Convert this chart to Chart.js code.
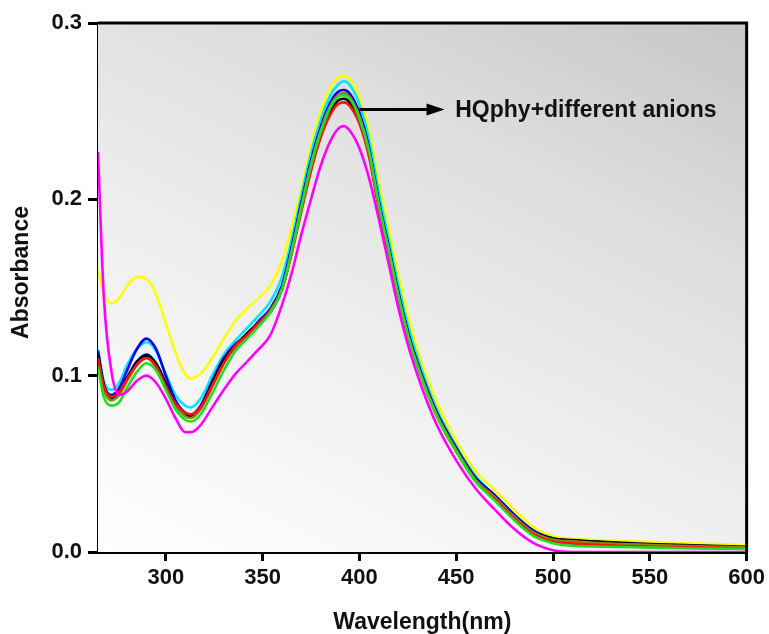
<!DOCTYPE html>
<html>
<head>
<meta charset="utf-8">
<script src="https://cdn.jsdelivr.net/npm/chart.js@4.4.1/dist/chart.umd.min.js"></script>
<style>
  html, body { margin: 0; padding: 0; background: #ffffff; }
  #wrap { width: 769px; height: 634px; position: relative; }
</style>
</head>
<body>
<div id="wrap"><canvas id="c" width="769" height="634"></canvas></div>
<script>
// ---------------- DATA ----------------
const wavelengths = [265,268,272,276,280,285,290,295,300,305,310,313,318,324,330,336,342,348,354,360,365,370,375,380,385,389,392,395,400,405,410,415,420,426,432,440,450,460,470,480,490,500,510,525,550,575,600];

const magenta = [0.227,0.145,0.102,0.089,0.091,0.097,0.100,0.096,0.087,0.076,0.068,0.068,0.072,0.082,0.092,0.101,0.108,0.115,0.123,0.140,0.158,0.180,0.200,0.219,0.233,0.240,0.2415,0.239,0.229,0.212,0.189,0.164,0.139,0.114,0.094,0.072,0.052,0.036,0.024,0.013,0.005,0.001,0.0,0.0,0.0,0.0,0.0];
const yellow  = [0.160,0.147,0.141,0.144,0.151,0.156,0.155,0.146,0.130,0.113,0.101,0.0985,0.101,0.110,0.121,0.131,0.138,0.144,0.151,0.165,0.184,0.206,0.230,0.250,0.263,0.269,0.270,0.268,0.258,0.239,0.210,0.184,0.158,0.130,0.108,0.085,0.063,0.046,0.035,0.024,0.014,0.009,0.0075,0.0068,0.0058,0.0048,0.004];
const cyan    = [0.115,0.097,0.092,0.096,0.106,0.115,0.119,0.114,0.101,0.089,0.083,0.082,0.087,0.100,0.112,0.120,0.127,0.134,0.142,0.156,0.177,0.202,0.226,0.245,0.259,0.265,0.267,0.265,0.254,0.234,0.204,0.178,0.152,0.125,0.104,0.081,0.060,0.043,0.032,0.021,0.011,0.0065,0.005,0.004,0.0033,0.0028,0.0025];
const blue    = [0.114,0.095,0.089,0.093,0.103,0.115,0.121,0.115,0.100,0.086,0.079,0.078,0.083,0.097,0.110,0.118,0.123,0.131,0.138,0.151,0.173,0.198,0.222,0.241,0.255,0.261,0.262,0.260,0.249,0.229,0.199,0.174,0.148,0.121,0.101,0.079,0.059,0.042,0.032,0.021,0.012,0.007,0.005,0.004,0.003,0.0025,0.002];
const navy    = [0.111,0.094,0.088,0.091,0.099,0.108,0.112,0.107,0.096,0.084,0.078,0.077,0.082,0.096,0.109,0.117,0.124,0.130,0.137,0.150,0.172,0.197,0.221,0.240,0.254,0.259,0.260,0.258,0.248,0.228,0.198,0.173,0.147,0.121,0.101,0.079,0.059,0.042,0.032,0.021,0.012,0.0078,0.0068,0.0058,0.0045,0.0037,0.003];
const olive   = [0.108,0.092,0.086,0.089,0.097,0.106,0.110,0.105,0.094,0.083,0.077,0.076,0.081,0.094,0.107,0.116,0.122,0.129,0.136,0.149,0.171,0.196,0.220,0.239,0.253,0.259,0.260,0.258,0.247,0.227,0.197,0.172,0.146,0.120,0.100,0.078,0.058,0.041,0.031,0.020,0.011,0.007,0.006,0.005,0.004,0.0032,0.0026];
const green   = [0.105,0.088,0.083,0.085,0.093,0.102,0.107,0.103,0.092,0.081,0.075,0.074,0.078,0.090,0.103,0.114,0.121,0.128,0.136,0.149,0.170,0.195,0.219,0.238,0.252,0.258,0.259,0.257,0.246,0.227,0.197,0.172,0.146,0.119,0.099,0.077,0.057,0.040,0.029,0.018,0.009,0.005,0.0035,0.003,0.0025,0.002,0.0018];
const red     = [0.110,0.094,0.088,0.091,0.098,0.106,0.110,0.105,0.094,0.084,0.079,0.078,0.082,0.094,0.107,0.117,0.123,0.130,0.137,0.149,0.169,0.193,0.216,0.235,0.248,0.254,0.255,0.253,0.243,0.224,0.195,0.170,0.145,0.119,0.099,0.077,0.057,0.040,0.030,0.019,0.010,0.006,0.005,0.004,0.003,0.0025,0.002];
const black   = [0.112,0.095,0.087,0.090,0.098,0.107,0.111,0.106,0.095,0.084,0.078,0.077,0.082,0.096,0.109,0.117,0.124,0.130,0.136,0.149,0.170,0.195,0.218,0.237,0.250,0.256,0.257,0.255,0.245,0.226,0.196,0.171,0.146,0.120,0.100,0.078,0.058,0.041,0.031,0.020,0.011,0.0075,0.0065,0.0055,0.0042,0.0035,0.0027];

const xTicks = [300,350,400,450,500,550,600];
const yTicks = [0.0,0.1,0.2,0.3];
const xLabel = 'Wavelength(nm)';
const yLabel = 'Absorbance';
const annotationText = 'HQphy+different anions';
const annotationArrow = { from: 400, to: 444, y: 0.251, textAt: 449.5 };

// ---------------- CHART ----------------
const seriesList = [
  { name: 'magenta', data: magenta, color: '#ff00ff' },
  { name: 'green',   data: green,   color: '#22dd22' },
  { name: 'red',     data: red,     color: '#ff1111' },
  { name: 'olive',   data: olive,   color: '#8a8a10' },
  { name: 'black',   data: black,   color: '#000000' },
  { name: 'blue',    data: blue,    color: '#0000ee' },
  { name: 'navy',    data: navy,    color: '#000066' },
  { name: 'cyan',    data: cyan,    color: '#00e5ff' },
  { name: 'yellow',  data: yellow,  color: '#ffff00' }
];

const datasets = seriesList.map(s => ({
  label: s.name,
  data: wavelengths.map((w, i) => ({ x: w, y: s.data[i] })),
  borderColor: s.color,
  backgroundColor: s.color,
  borderWidth: 2.6,
  pointRadius: 0,
  fill: false,
  cubicInterpolationMode: 'monotone'
}));

const FONT = "'Liberation Sans', Arial, sans-serif";

const bgPlugin = {
  id: 'bg',
  beforeDatasetsDraw(chart) {
    const { ctx, chartArea: a } = chart;
    const dx = 0.445, dy = -0.896;
    const len = (a.right - a.left) * dx + (a.bottom - a.top) * (-dy);
    const g = ctx.createLinearGradient(a.left, a.bottom, a.left + dx * len, a.bottom + dy * len);
    g.addColorStop(0, '#ffffff');
    g.addColorStop(0.35, '#f1f1f1');
    g.addColorStop(0.7, '#dedede');
    g.addColorStop(1, '#c6c6c6');
    ctx.save();
    ctx.fillStyle = g;
    ctx.fillRect(a.left, a.top, a.right - a.left, a.bottom - a.top);
    ctx.restore();
  },
  afterDatasetsDraw(chart) {
    const { ctx, chartArea: a, scales } = chart;
    ctx.save();
    ctx.strokeStyle = '#000';
    ctx.lineWidth = 3;
    ctx.beginPath();
    ctx.moveTo(a.left, a.top);
    ctx.lineTo(a.right, a.top);
    ctx.lineTo(a.right, a.bottom);
    ctx.stroke();
    // annotation arrow
    const x0 = scales.x.getPixelForValue(annotationArrow.from);
    const x1 = scales.x.getPixelForValue(annotationArrow.to);
    const yy = scales.y.getPixelForValue(annotationArrow.y);
    ctx.lineWidth = 3;
    ctx.beginPath();
    ctx.moveTo(x0, yy);
    ctx.lineTo(x1 - 14, yy);
    ctx.stroke();
    ctx.fillStyle = '#000';
    ctx.beginPath();
    ctx.moveTo(x1, yy);
    ctx.lineTo(x1 - 18, yy - 6);
    ctx.lineTo(x1 - 18, yy + 6);
    ctx.closePath();
    ctx.fill();
    ctx.font = "bold 23px " + FONT;
    ctx.textAlign = 'left';
    ctx.textBaseline = 'middle';
    ctx.fillStyle = '#111';
    ctx.fillText(annotationText, scales.x.getPixelForValue(annotationArrow.textAt), yy + 1);
    // y-axis title (drawn slightly above centre as in the reference)
    ctx.translate(22, (a.top + a.bottom) / 2 - 15);
    ctx.rotate(-Math.PI / 2);
    ctx.textAlign = 'center';
    ctx.fillText(yLabel, 0, 0);
    ctx.restore();
  }
};

new Chart(document.getElementById('c'), {
  type: 'line',
  data: { datasets },
  plugins: [bgPlugin],
  options: {
    responsive: false,
    animation: false,
    devicePixelRatio: 1,
    layout: { padding: { left: 0, right: 19, top: 23, bottom: 0 } },
    plugins: { legend: { display: false }, tooltip: { enabled: false } },
    scales: {
      x: {
        type: 'linear',
        min: 265, max: 600,
        afterBuildTicks: s => { s.ticks = xTicks.map(v => ({ value: v })); },
        afterFit: s => { s.height = 82; },
        border: { display: true, color: '#000', width: 3 },
        grid: { display: true, drawOnChartArea: false, drawTicks: true, tickLength: 9, color: '#000', lineWidth: 3 },
        ticks: { color: '#111', padding: 4, font: { family: FONT, size: 22, weight: 'bold' }, maxRotation: 0 },
        title: { display: true, text: xLabel, color: '#111', padding: { top: 0, bottom: -2 }, font: { family: FONT, size: 23, weight: 'bold' } }
      },
      y: {
        type: 'linear',
        min: 0, max: 0.3,
        afterBuildTicks: s => { s.ticks = yTicks.map(v => ({ value: v })); },
        afterFit: s => { s.width = 98; },
        border: { display: true, color: '#000', width: 3 },
        grid: { display: true, drawOnChartArea: false, drawTicks: true, tickLength: 10, color: '#000', lineWidth: 3 },
        ticks: { color: '#111', padding: 6, font: { family: FONT, size: 22, weight: 'bold' }, callback: v => Number(v).toFixed(1) },
        title: { display: false }
      }
    }
  }
});
</script>
</body>
</html>
